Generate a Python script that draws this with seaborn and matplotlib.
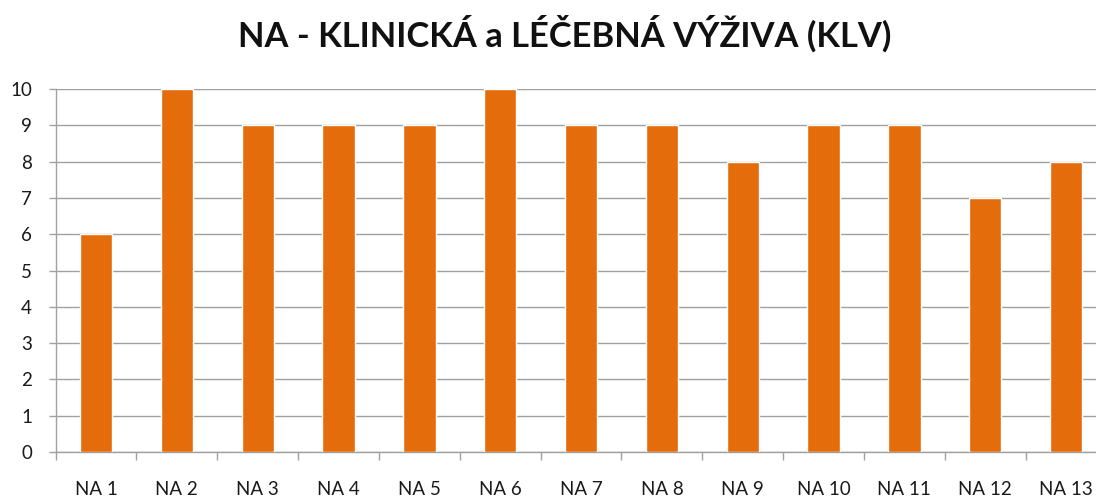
import matplotlib
matplotlib.use("Agg")
import matplotlib.pyplot as plt
import seaborn as sns
import pandas as pd
import numpy as np
from matplotlib.ticker import FixedLocator, MultipleLocator

categories = ["NA 1", "NA 2", "NA 3", "NA 4", "NA 5", "NA 6", "NA 7",
              "NA 8", "NA 9", "NA 10", "NA 11", "NA 12", "NA 13"]
values = [6, 10, 9, 9, 9, 10, 9, 9, 8, 9, 9, 7, 8]
title = "NA - KLINICKÁ a LÉČEBNÁ VÝŽIVA (KLV)"

sns.set_theme(style="white")
plt.rcParams['font.family'] = ['Lato', 'DejaVu Sans']

df = pd.DataFrame({"cat": categories, "val": values})

W, H = 1096, 497
fig = plt.figure(figsize=(W / 100, H / 100), dpi=100)
left = 55.6 / W
right = 1106.5 / W
bottom = (H - 452) / H
top = (H - 89) / H
ax = fig.add_axes([left, bottom, right - left, top - bottom])

sns.barplot(data=df, x="cat", y="val", color="#E46C0A", width=0.4,
            saturation=1, ax=ax, zorder=3)

ax.set_xlim(-0.5, len(categories) - 0.5)
ax.set_ylim(0, 10)
ax.yaxis.set_major_locator(MultipleLocator(1))
ax.grid(axis="y", color="#a0a0a0", linewidth=1, zorder=0)
ax.grid(axis="x", visible=False)
ax.set_axisbelow(True)

for s in ["top", "right"]:
    ax.spines[s].set_visible(False)
for s in ["left", "bottom"]:
    ax.spines[s].set_color("#a0a0a0")
    ax.spines[s].set_linewidth(1)

ax.set_xlabel("")
ax.set_ylabel("")
ax.tick_params(axis="y", which="major", length=5, width=1, color="#a0a0a0",
               labelsize=13.5, pad=12, labelcolor="#1a1a1a", left=True)
ax.tick_params(axis="x", which="major", length=0, labelsize=13.5, pad=21,
               labelcolor="#1a1a1a")
ax.xaxis.set_minor_locator(FixedLocator(np.arange(-0.5, len(categories), 1.0)))
ax.tick_params(axis="x", which="minor", length=6, width=1, color="#a0a0a0",
               bottom=True)

fig.text(565 / W, (H - 47) / H, title, ha="center", va="baseline",
         fontsize=24.8, fontweight="bold", color="#111111")

fig.savefig("out.png", dpi=100)
